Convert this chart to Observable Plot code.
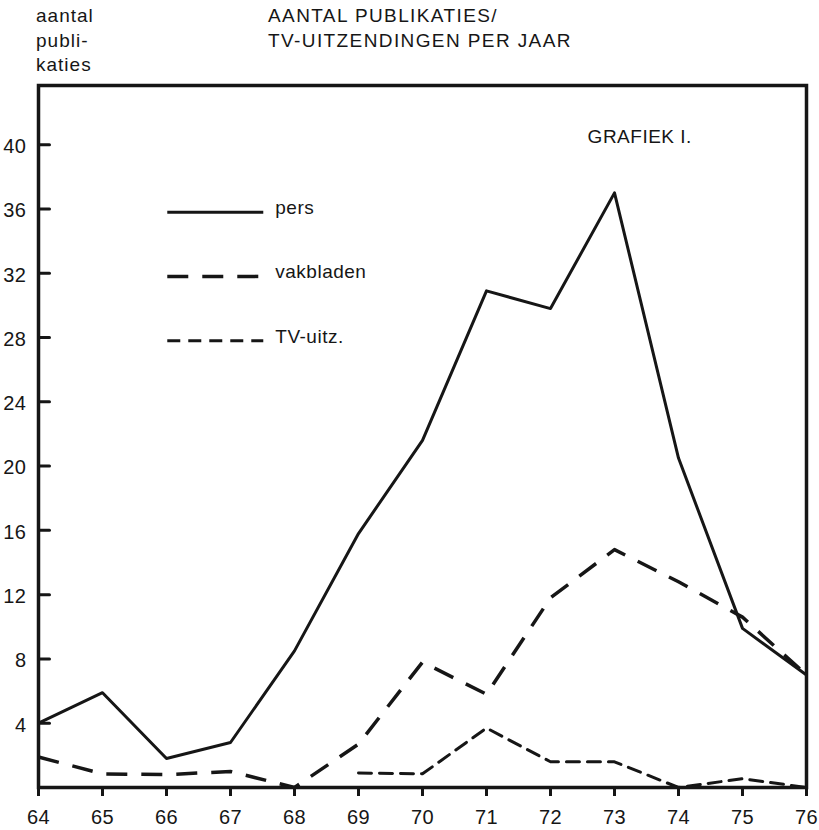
<!DOCTYPE html>
<html>
<head>
<meta charset="utf-8">
<script src="https://cdn.jsdelivr.net/npm/d3@7"></script>
<script src="https://cdn.jsdelivr.net/npm/@observablehq/plot@0.6"></script>
<style>
  html, body { margin: 0; padding: 0; background: #fff; }
  #wrap { position: relative; width: 819px; height: 830px; background: #fff; }
  .hd { position: absolute; font-family: "Liberation Sans", Arial, Helvetica, sans-serif;
        font-size: 19px; line-height: 24.5px; letter-spacing: 1.4px; color: #161616; white-space: nowrap; }
  #chart { position: absolute; left: 0; top: 82px; }
</style>
</head>
<body>
<div id="wrap">
  <div class="hd" id="ylab" style="left:36px; top:4px; letter-spacing:1px;"></div>
  <div class="hd" id="title" style="left:268px; top:4px;"></div>
  <div id="chart"></div>
</div>
<script>
// ---- data ----
const years = [64, 65, 66, 67, 68, 69, 70, 71, 72, 73, 74, 75, 76];
const pers = [4.0, 5.9, 1.8, 2.8, 8.5, 15.8, 21.6, 30.9, 29.8, 37.0, 20.5, 9.9, 7.0];
const vakbladen = [1.9, 0.85, 0.8, 1.0, 0, 2.7, 7.8, 5.8, 11.8, 14.8, 12.8, 10.6, 7.0];
const tvUitz = [null, null, null, null, null, 0.9, 0.85, 3.7, 1.6, 1.6, 0, 0.55, 0];
const yTicks = [4, 8, 12, 16, 20, 24, 28, 32, 36, 40];
const seriesLabels = ["pers", "vakbladen", "TV-uitz."];
const yAxisTitle = ["aantal", "publi-", "katies"];
const titleLines = ["AANTAL PUBLIKATIES/", "TV-UITZENDINGEN PER JAAR"];
const chartNote = "GRAFIEK I.";

// ---- header text ----
document.getElementById("ylab").innerHTML = yAxisTitle.join("<br>");
document.getElementById("title").innerHTML = titleLines.join("<br>");

const ink = "#161616";
const toRows = (vals) => years.map((x, i) => ({x, y: vals[i]})).filter(d => d.y != null);

// styles per series
const styles = [
  {dash: null, width: 3},
  {dash: "21,14", width: 3.5},
  {dash: "13,8", width: 3}
];

// legend layout (data coordinates inside the frame)
const legendX1 = 66.02, legendX2 = 67.52, legendTextX = 67.70;
const legendY = [35.8, 31.8, 27.8];
const legendRows = seriesLabels.map((label, i) => ({label, y: legendY[i], i}));

const tickShape = {draw(context, l) { context.moveTo(0, 0); context.lineTo(0, -l); }};

const chart = Plot.plot({
  width: 819,
  height: 748,
  marginLeft: 38,
  marginRight: 13,
  marginTop: 3,
  marginBottom: 43,
  x: {domain: [64, 76], label: null},
  y: {domain: [0, 43.68], label: null},
  style: {fontFamily: "'Liberation Sans', Arial, Helvetica, sans-serif", fontSize: "20px", color: ink, background: "white", letterSpacing: "0.5px"},
  marks: [
    Plot.axisX(years, {tickSize: 9, tickPadding: 13, strokeWidth: 3, tickFormat: d => String(d), label: null}),
    Plot.axisY(yTicks, {tickSize: 0, tickPadding: 12, dy: 2, label: null}),
    Plot.vector(yTicks, {x: () => years[0], y: d => d, length: 11, rotate: 90, anchor: "start", shape: tickShape, stroke: ink, strokeWidth: 3}),
    Plot.line(toRows(tvUitz), {x: "x", y: "y", stroke: ink, strokeWidth: styles[2].width, strokeDasharray: styles[2].dash, strokeLinecap: "round"}),
    Plot.line(toRows(vakbladen), {x: "x", y: "y", stroke: ink, strokeWidth: styles[1].width, strokeDasharray: styles[1].dash, strokeLinecap: "butt"}),
    Plot.line(toRows(pers), {x: "x", y: "y", stroke: ink, strokeWidth: styles[0].width}),
    ...legendRows.map(r => Plot.ruleY([r], {y: "y", x1: () => legendX1, x2: () => legendX2, stroke: ink, strokeWidth: styles[r.i].width, strokeDasharray: styles[r.i].dash})),
    Plot.text(legendRows, {x: () => legendTextX, y: "y", text: "label", textAnchor: "start", lineAnchor: "bottom", fill: ink, dy: 2, fontSize: 19, letterSpacing: "1px"}),
    Plot.text([chartNote], {x: () => 72.58, y: () => 40.1, text: d => d, textAnchor: "start", lineAnchor: "bottom", fill: ink, fontSize: 19, letterSpacing: "1.6px"}),
    Plot.frame({stroke: ink, strokeWidth: 3.5})
  ]
});
document.getElementById("chart").appendChild(chart);
</script>
</body>
</html>
